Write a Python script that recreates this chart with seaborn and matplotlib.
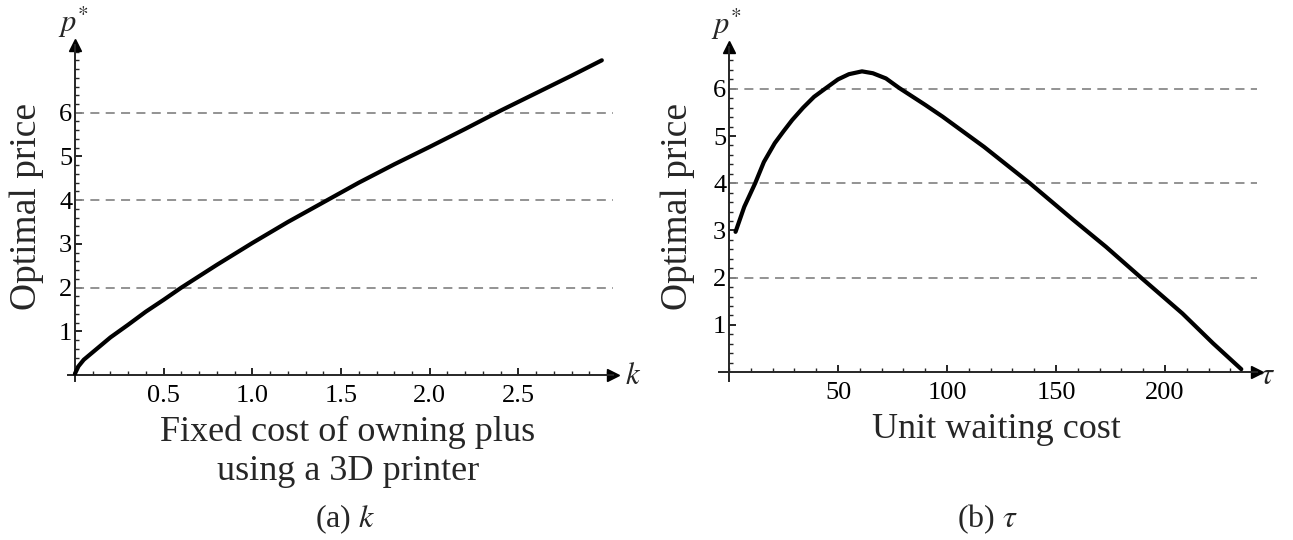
import numpy as np
import pandas as pd
import matplotlib
matplotlib.use("Agg")
import matplotlib.pyplot as plt
import seaborn as sns
from matplotlib.ticker import MultipleLocator, FixedLocator

# ---- data ----
k_vals = [0.0, 0.02, 0.05, 0.1, 0.2, 0.3, 0.4, 0.5, 0.6, 0.8, 1.0, 1.2, 1.4,
          1.6, 1.8, 2.0, 2.2, 2.4, 2.6, 2.8, 2.97]
p_k = [0.03, 0.2, 0.35, 0.52, 0.86, 1.15, 1.45, 1.72, 2.0, 2.52, 3.02, 3.5,
       3.95, 4.4, 4.82, 5.22, 5.63, 6.05, 6.45, 6.85, 7.2]

tau_vals = [3, 7, 12, 16, 21, 25, 29, 34, 39, 44, 50, 55, 61, 66, 72, 78, 90,
            98, 117, 138, 158, 173, 189, 208, 222, 235]
p_tau = [2.97, 3.5, 4.0, 4.45, 4.85, 5.1, 5.34, 5.6, 5.83, 6.0, 6.2, 6.31,
         6.37, 6.33, 6.22, 6.02, 5.66, 5.41, 4.77, 4.0, 3.22, 2.65, 2.0, 1.24,
         0.61, 0.06]

k_ticks = [0.5, 1.0, 1.5, 2.0, 2.5]
tau_ticks = [50, 100, 150, 200]
p_ticks = [1, 2, 3, 4, 5, 6]
grid_levels = [2, 4, 6]

ylabel = "Optimal price"
xlabel_a = "Fixed cost of owning plus\nusing a 3D printer"
xlabel_b = "Unit waiting cost"
caption_a = "(a) $k$"
caption_b = "(b) $\\tau$"

# ---- style ----
sns.set_style("ticks")
plt.rcParams["font.family"] = ["Liberation Serif", "DejaVu Serif"]
plt.rcParams["mathtext.fontset"] = "stix"

W, H = 1293, 540
fig = plt.figure(figsize=(W / 100, H / 100), dpi=100)


def px_rect(x0, y0, x1, y1):
    return [x0 / W, 1 - y1 / H, (x1 - x0) / W, (y1 - y0) / H]


ax1 = fig.add_axes(px_rect(68, 45, 613, 381))
ax2 = fig.add_axes(px_rect(719, 47, 1257, 381))

df_a = pd.DataFrame({"k": k_vals, "p": p_k})
df_b = pd.DataFrame({"tau": tau_vals, "p": p_tau})

sns.lineplot(data=df_a, x="k", y="p", ax=ax1, color="black", lw=3.0,
             sort=False, solid_capstyle="round", solid_joinstyle="round",
             zorder=5)
sns.lineplot(data=df_b, x="tau", y="p", ax=ax2, color="black", lw=3.0,
             sort=False, solid_capstyle="round", solid_joinstyle="round",
             zorder=5)

ax1.set_xlim(-0.039, 3.033)
ax1.set_ylim(-0.137, 7.55)
ax2.set_xlim(-4.59, 242.2)
ax2.set_ylim(-0.19, 6.886)


def style_axis(ax, xticks, xminor, yminor_max):
    for s in ["top", "right"]:
        ax.spines[s].set_visible(False)
    ax.spines["left"].set_position(("data", 0))
    ax.spines["bottom"].set_position(("data", 0))
    ax.spines["left"].set_linewidth(1.4)
    ax.spines["bottom"].set_linewidth(1.4)
    ax.set_xticks(xticks)
    ax.set_xticklabels([("%g" % t) if t >= 10 else ("%.1f" % t) for t in xticks])
    ax.set_yticks(p_ticks)
    ax.set_yticklabels([str(t) for t in p_ticks])
    ax.xaxis.set_minor_locator(MultipleLocator(xminor))
    ax.yaxis.set_minor_locator(FixedLocator(np.arange(0.2, yminor_max, 0.2)))
    ax.tick_params(axis="both", which="major", direction="in", length=5,
                   width=1.2, labelsize=19, colors="black")
    ax.tick_params(axis="both", which="minor", direction="in", length=3,
                   width=1.0)
    ax.tick_params(axis="x", which="major", pad=7)
    ax.tick_params(axis="y", which="major", pad=2)
    ax.set_xlabel("")
    ax.set_ylabel("")
    # arrow heads
    ax.plot(1, 0, ">", color="black", ms=9, transform=ax.get_yaxis_transform(),
            clip_on=False)
    ax.plot(0, 1, "^", color="black", ms=9, transform=ax.get_xaxis_transform(),
            clip_on=False)
    x0, x1 = ax.get_xlim()
    xmin = (0 - x0) / (x1 - x0)
    for g in grid_levels:
        ax.axhline(g, xmin=xmin, xmax=1, color="#8a8a8a", lw=1.3,
                   dashes=(5, 3.5), zorder=1)


style_axis(ax1, k_ticks, 0.1, 7.45)
style_axis(ax2, tau_ticks, 10, 6.8)
ax2.set_xticklabels([str(t) for t in tau_ticks])


def ftext(x, y, s, **kw):
    fig.text(x / W, 1 - y / H, s, ha="center", va="center", **kw)


# axis names
ftext(27, 207, ylabel, rotation=90, fontsize=27)
ftext(678, 207, ylabel, rotation=90, fontsize=27)
ftext(348, 452, xlabel_a, fontsize=26, linespacing=1.25)
ftext(996, 430, xlabel_b, fontsize=26)
ftext(345, 519, caption_a, fontsize=23)
ftext(987, 519, caption_b, fontsize=23)
# axis symbols
ftext(74, 22, "$p^{*}$", fontsize=22)
ftext(727, 24, "$p^{*}$", fontsize=22)
ftext(633, 376, "$k$", fontsize=22)
ftext(1268, 376, "$\\tau$", fontsize=22)

fig.savefig("out.png", dpi=100, facecolor="white")
